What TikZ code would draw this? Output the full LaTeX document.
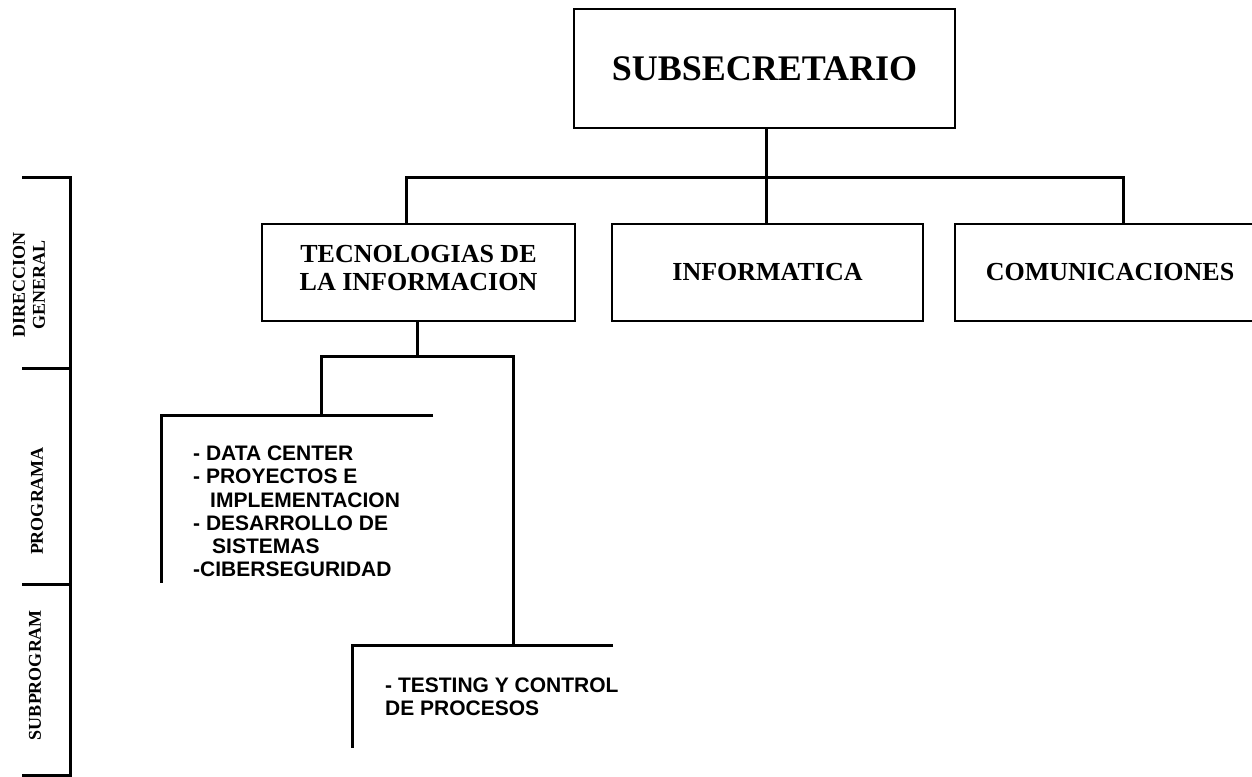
\documentclass[tikz,border=0pt]{standalone}
\usepackage{fontspec}
\setmainfont{Liberation Serif}
\newfontfamily\listfont{Liberation Sans}
\usepackage{tikz}

\begin{document}
\begin{tikzpicture}[x=1pt, y=-1pt,
  unit/.style={draw, line width=2.5pt, font=\bfseries\fontsize{26}{28}\selectfont, align=center, inner sep=0pt, minimum height=97pt},
  frame/.style={inner sep=0pt},
  conn/.style={line width=3pt},
  items/.style={font=\listfont\bfseries\fontsize{21}{23.3}\selectfont, align=left, inner sep=0pt, anchor=west},
  side/.style={font=\bfseries\fontsize{18}{20}\selectfont, align=center, inner sep=0pt, rotate=90}]
  \useasboundingbox (0,0) rectangle (1252,776);
  \draw[conn] (22,177) -- (70,177) -- (70,775) -- (22,775);
  \foreach \y in {368,584} \draw[conn] (22,\y) -- (70,\y);
  \node[side] (dirgen) at (29,285) {DIRECCION\\GENERAL};
  \node[side] (prgm) at (37,501) {PROGRAMA};
  \node[side] (subprgm) at (35,675) {SUBPROGRAM};

  \node[unit, font=\bfseries\fontsize{36}{40}\selectfont, minimum width=381pt, minimum height=119pt] (subsec) at (764.5,68.5) {SUBSECRETARIO};
  \node[unit, minimum width=313pt] (tic) at (418.5,272.5) {TECNOLOGIAS DE\\LA INFORMACION\\[-18pt]\mbox{}};
  \node[unit, minimum width=311pt] (info) at (767.5,272.5) {INFORMATICA};
  \node[unit, minimum width=310pt] (comu) at (1110,272.5) {COMUNICACIONES};
  \node[frame, minimum width=271pt, minimum height=167pt] (prog) at (297.5,499.5) {};
  \node[frame, minimum width=260pt, minimum height=102pt] (subp) at (483,697) {};
  \node[items] (progitems) at (193,511.5) {- DATA CENTER\\- PROYECTOS E\\\hspace*{17pt}IMPLEMENTACION\\- DESARROLLO DE\\\hspace*{19pt}SISTEMAS\\-CIBERSEGURIDAD};
  \node[items] (subpitems) at (385,696.5) {- TESTING Y CONTROL\\DE PROCESOS};

  \coordinate (bus) at (766,177);
  \coordinate (fork) at (417,356);
  \draw[conn] (subsec.south -| bus) -- (bus);
  \draw[conn] ([xshift=-12.5pt]tic.north) |- ([xshift=13pt]comu.north |- bus) -- ([xshift=13pt]comu.north);
  \draw[conn] (bus) -- (bus |- info.north);
  \draw[conn] (tic.south -| fork) -- (fork);
  \draw[conn] ([xshift=23.5pt]prog.north) |- (fork) -| ([xshift=30pt]subp.north);
  \draw[conn] (prog.north east) -| (prog.south west);
  \draw[conn] (subp.north east) -| (subp.south west);
\end{tikzpicture}
\end{document}
